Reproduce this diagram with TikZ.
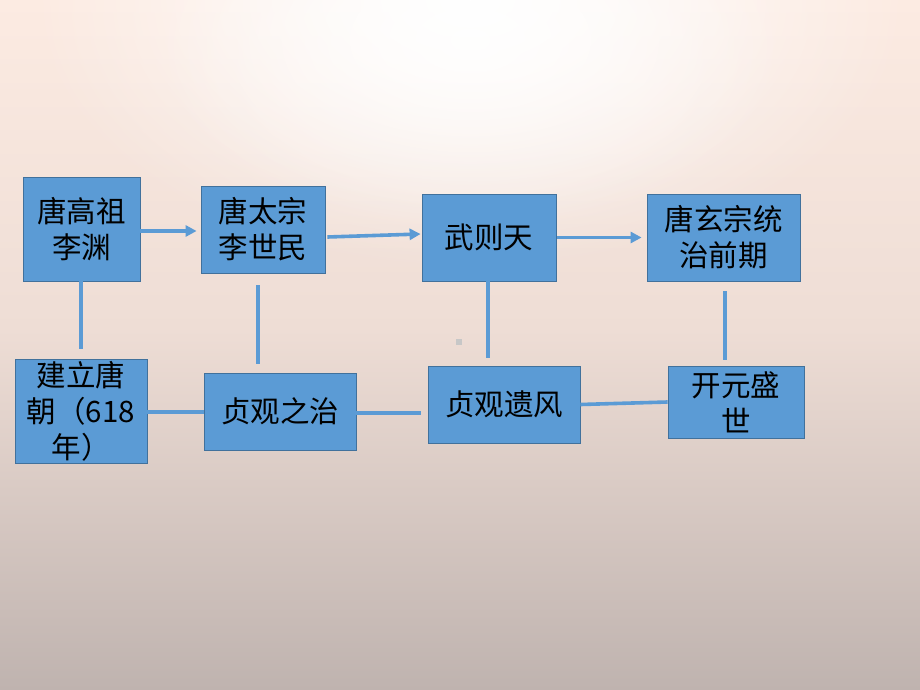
\documentclass[tikz,border=0pt]{standalone}
\usepackage{fontspec}
\newfontfamily\cjk{Noto Sans CJK SC}
\usetikzlibrary{arrows.meta,fadings}
\definecolor{boxfill}{HTML}{5B9BD5}
\definecolor{boxline}{HTML}{41719C}
\definecolor{bgtop}{HTML}{FCEBE2}
\definecolor{bgmid}{HTML}{EEDDD5}
\definecolor{bgbot}{HTML}{BFB3AF}
\tikzfading[name=glowfade, inner color=transparent!0, outer color=transparent!100]
\tikzset{
  box/.style={draw=boxline, line width=0.8pt, fill=boxfill, inner sep=0pt,
    font=\cjk\fontsize{29.5}{36}\selectfont, align=center, text=black},
  link/.style={draw=boxfill, line width=3.6pt},
  arr/.style={link, -{Triangle[length=11pt,width=11pt]}}
}
\begin{document}
\begin{tikzpicture}[x=1pt,y=-1pt]
\useasboundingbox (0,0) rectangle (920,690);
% background
\shade[top color=bgtop, bottom color=bgmid] (0,0) rectangle (920,330);
\shade[top color=bgmid, bottom color=bgbot] (0,329) rectangle (920,690);
\begin{scope}
\clip (0,0) rectangle (920,690);
\fill[white, path fading=glowfade] (470,0) ellipse (440 and 270);
\fill[white, path fading=glowfade, opacity=0.8] (470,40) ellipse (320 and 190);
\end{scope}
\fill[black!22] (456,339) rectangle (462,345);

% boxes
\node[box, minimum width=117, minimum height=104] (b1) at (81.5,229) {唐高祖\\李渊};
\node[box, minimum width=124, minimum height=87] (b2) at (263,229.5) {唐太宗\\李世民};
\node[box, minimum width=134, minimum height=87] (b3) at (489,237.5) {武则天};
\node[box, minimum width=153, minimum height=87] (b4) at (723.5,237.5) {唐玄宗统\\治前期};
\node[box, minimum width=132, minimum height=104] (b5) at (81,411) {建立唐\\朝（618\\年）};
\node[box, minimum width=152, minimum height=77] (b6) at (280,411.5) {贞观之治};
\node[box, minimum width=152, minimum height=77] (b7) at (504,404.5) {贞观遗风};
\node[box, minimum width=136, minimum height=72] (b8) at (736,402) {开元盛\\世};

% arrows
\draw[arr] ([shift={(0,2)}]b1.east) -- ([shift={(-4,2)}]b1.east -| b2.west);
\draw[arr] ([shift={(2,7.5)}]b2.east) -- ([shift={(-1,-3.5)}]b3.west);
\draw[arr] ([shift={(1,0)}]b3.east) -- ([shift={(-5,0)}]b4.west);

% vertical links
\draw[link] ([shift={(-0.5,0)}]b1.south) -- ([shift={(-0.5,-10)}]b1.south |- b5.north);
\draw[link] ([shift={(-5,12)}]b2.south) -- ([shift={(-22,-9)}]b6.north);
\draw[link] ([shift={(-1,0)}]b3.south) -- ([shift={(-1,-8)}]b3.south |- b7.north);
\draw[link] ([shift={(1.5,10)}]b4.south) -- ([shift={(-11,-6)}]b8.north);

% horizontal links
\draw[link] ([shift={(0,1)}]b5.east) -- ([shift={(0,1)}]b5.east -| b6.west);
\draw[link] ([shift={(0,1.5)}]b6.east) -- ([shift={(-7,1.5)}]b6.east -| b7.west);
\draw[link] (b7.east) -- (b8.west);
\end{tikzpicture}
\end{document}
